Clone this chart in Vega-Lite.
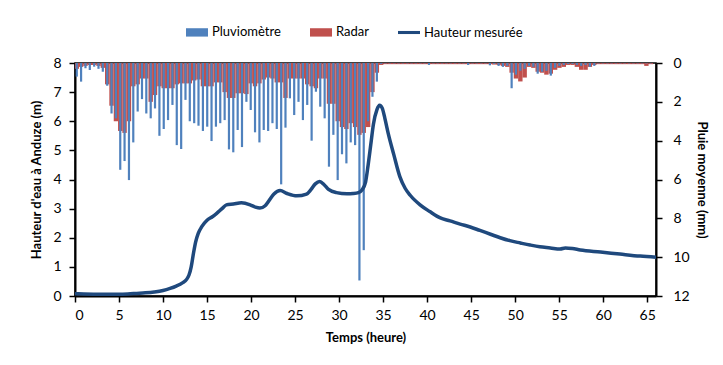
{
  "$schema": "https://vega.github.io/schema/vega-lite/v6.json",
  "width": 581,
  "height": 233,
  "autosize": "none",
  "padding": {"left": 75, "top": 63, "right": 67, "bottom": 69},
  "background": "white",
  "datasets": {
    "rain": [
      {"t":0.2,"pluvio":0.7,"radar":0.3},{"t":0.69,"pluvio":0.96,"radar":0.2},{"t":1.19,"pluvio":0.27,"radar":0.15},{"t":1.68,"pluvio":0.36,"radar":0.1},
      {"t":2.18,"pluvio":0.19,"radar":0.1},{"t":2.67,"pluvio":0.3,"radar":0.15},{"t":3.16,"pluvio":0.45,"radar":0.25},{"t":3.66,"pluvio":1.17,"radar":1.1},
      {"t":4.15,"pluvio":2.6,"radar":2.2},{"t":4.65,"pluvio":2.85,"radar":3.0},{"t":5.14,"pluvio":5.5,"radar":3.5},{"t":5.63,"pluvio":5.05,"radar":3.6},
      {"t":6.13,"pluvio":6.03,"radar":3.0},{"t":6.62,"pluvio":4.09,"radar":1.2},{"t":7.12,"pluvio":2.5,"radar":1.1},{"t":7.61,"pluvio":1.86,"radar":0.8},
      {"t":8.1,"pluvio":2.6,"radar":0.8},{"t":8.6,"pluvio":2.85,"radar":2.0},{"t":9.09,"pluvio":2.34,"radar":1.65},{"t":9.59,"pluvio":3.75,"radar":1.2},
      {"t":10.08,"pluvio":3.4,"radar":1.3},{"t":10.57,"pluvio":2.94,"radar":1.3},{"t":11.07,"pluvio":2.16,"radar":1.3},{"t":11.56,"pluvio":4.23,"radar":1.1},
      {"t":12.06,"pluvio":4.43,"radar":1.05},{"t":12.55,"pluvio":1.9,"radar":1.05},{"t":13.04,"pluvio":3.0,"radar":1.05},{"t":13.54,"pluvio":3.1,"radar":0.9},
      {"t":14.03,"pluvio":3.23,"radar":0.85},{"t":14.53,"pluvio":3.5,"radar":1.2},{"t":15.02,"pluvio":3.28,"radar":1.2},{"t":15.51,"pluvio":4.02,"radar":1.2},
      {"t":16.01,"pluvio":3.28,"radar":1.0},{"t":16.5,"pluvio":3.1,"radar":1.0},{"t":17.0,"pluvio":2.94,"radar":1.5},{"t":17.49,"pluvio":4.45,"radar":1.8},
      {"t":17.98,"pluvio":4.6,"radar":1.8},{"t":18.48,"pluvio":3.45,"radar":1.56},{"t":18.97,"pluvio":4.33,"radar":1.56},{"t":19.47,"pluvio":2.0,"radar":1.6},
      {"t":19.96,"pluvio":2.42,"radar":1.05},{"t":20.45,"pluvio":3.57,"radar":1.2},{"t":20.95,"pluvio":4.09,"radar":1.05},{"t":21.44,"pluvio":3.45,"radar":0.85},
      {"t":21.94,"pluvio":3.5,"radar":0.75},{"t":22.43,"pluvio":3.1,"radar":0.8},{"t":22.92,"pluvio":3.4,"radar":1.0},{"t":23.42,"pluvio":6.25,"radar":1.0},
      {"t":23.91,"pluvio":3.33,"radar":1.8},{"t":24.41,"pluvio":1.82,"radar":0.8},{"t":24.9,"pluvio":2.68,"radar":0.8},{"t":25.39,"pluvio":2.0,"radar":0.8},
      {"t":25.89,"pluvio":2.94,"radar":0.8},{"t":26.38,"pluvio":2.16,"radar":1.1},{"t":26.88,"pluvio":4.0,"radar":1.2},{"t":27.37,"pluvio":1.48,"radar":1.3},
      {"t":27.86,"pluvio":2.25,"radar":0.8},{"t":28.36,"pluvio":2.85,"radar":0.8},{"t":28.85,"pluvio":5.34,"radar":2.1},{"t":29.35,"pluvio":3.7,"radar":2.1},
      {"t":29.84,"pluvio":6.03,"radar":3.0},{"t":30.33,"pluvio":4.7,"radar":3.3},{"t":30.83,"pluvio":5.17,"radar":3.4},{"t":31.32,"pluvio":4.09,"radar":3.1},
      {"t":31.82,"pluvio":4.23,"radar":3.3},{"t":32.31,"pluvio":11.2,"radar":3.7},{"t":32.8,"pluvio":9.64,"radar":3.6},{"t":33.3,"pluvio":3.0,"radar":3.3},
      {"t":33.79,"pluvio":1.74,"radar":1.5},{"t":34.29,"pluvio":0.96,"radar":0.5},{"t":34.78,"pluvio":0.05,"radar":0.1},{"t":35.27,"pluvio":0.02,"radar":0.06},
      {"t":35.77,"pluvio":0.02,"radar":0.06},{"t":36.26,"pluvio":0.02,"radar":0.06},{"t":36.76,"pluvio":0.02,"radar":0.06},{"t":37.25,"pluvio":0.02,"radar":0.06},
      {"t":37.74,"pluvio":0.02,"radar":0.06},{"t":38.24,"pluvio":0.02,"radar":0.06},{"t":38.73,"pluvio":0.02,"radar":0.06},{"t":39.23,"pluvio":0.02,"radar":0.06},
      {"t":39.72,"pluvio":0.02,"radar":0.06},{"t":40.21,"pluvio":0.1,"radar":0.06},{"t":40.71,"pluvio":0.02,"radar":0.06},{"t":41.2,"pluvio":0.02,"radar":0.06},
      {"t":41.7,"pluvio":0.02,"radar":0.06},{"t":42.19,"pluvio":0.02,"radar":0.06},{"t":42.68,"pluvio":0.02,"radar":0.06},{"t":43.18,"pluvio":0.02,"radar":0.06},
      {"t":43.67,"pluvio":0.02,"radar":0.06},{"t":44.17,"pluvio":0.02,"radar":0.06},{"t":44.66,"pluvio":0.1,"radar":0.06},{"t":45.15,"pluvio":0.02,"radar":0.06},
      {"t":45.65,"pluvio":0.02,"radar":0.06},{"t":46.14,"pluvio":0.02,"radar":0.06},{"t":46.64,"pluvio":0.02,"radar":0.06},{"t":47.13,"pluvio":0.12,"radar":0.06},
      {"t":47.62,"pluvio":0.05,"radar":0.08},{"t":48.12,"pluvio":0.15,"radar":0.1},{"t":48.61,"pluvio":0.2,"radar":0.15},{"t":49.11,"pluvio":0.15,"radar":0.2},
      {"t":49.6,"pluvio":1.3,"radar":0.5},{"t":50.09,"pluvio":0.6,"radar":0.8},{"t":50.59,"pluvio":0.4,"radar":0.95},{"t":51.08,"pluvio":0.3,"radar":0.75},
      {"t":51.58,"pluvio":0.15,"radar":0.2},{"t":52.07,"pluvio":0.2,"radar":0.25},{"t":52.56,"pluvio":0.55,"radar":0.45},{"t":53.06,"pluvio":0.45,"radar":0.5},
      {"t":53.55,"pluvio":0.4,"radar":0.6},{"t":54.05,"pluvio":0.65,"radar":0.55},{"t":54.54,"pluvio":0.25,"radar":0.35},{"t":55.03,"pluvio":0.15,"radar":0.25},
      {"t":55.53,"pluvio":0.1,"radar":0.2},{"t":56.02,"pluvio":0.05,"radar":0.1},{"t":56.52,"pluvio":0.05,"radar":0.1},{"t":57.01,"pluvio":0.1,"radar":0.2},
      {"t":57.5,"pluvio":0.15,"radar":0.35},{"t":58.0,"pluvio":0.1,"radar":0.35},{"t":58.49,"pluvio":0.2,"radar":0.2},{"t":58.99,"pluvio":0.15,"radar":0.1},
      {"t":59.48,"pluvio":0.02,"radar":0.06},{"t":59.97,"pluvio":0.02,"radar":0.06},{"t":60.47,"pluvio":0.02,"radar":0.06},{"t":60.96,"pluvio":0.02,"radar":0.06},
      {"t":61.46,"pluvio":0.02,"radar":0.06},{"t":61.95,"pluvio":0.02,"radar":0.06},{"t":62.44,"pluvio":0.02,"radar":0.06},{"t":62.94,"pluvio":0.02,"radar":0.06},
      {"t":63.43,"pluvio":0.02,"radar":0.06},{"t":63.93,"pluvio":0.02,"radar":0.06},{"t":64.42,"pluvio":0.02,"radar":0.06},{"t":64.91,"pluvio":0.02,"radar":0.15},
      {"t":65.41,"pluvio":0.02,"radar":0.06}
    ],
    "level": [
      {"t":0,"h":0.08},{"t":1,"h":0.07},{"t":3,"h":0.06},{"t":5,"h":0.06},{"t":6,"h":0.07},{"t":7,"h":0.09},{"t":8,"h":0.11},{"t":9,"h":0.14},
      {"t":10,"h":0.19},{"t":10.8,"h":0.26},{"t":11.5,"h":0.34},{"t":12.2,"h":0.45},{"t":12.7,"h":0.58},{"t":12.95,"h":0.72},{"t":13.2,"h":1.0},
      {"t":13.45,"h":1.45},{"t":13.7,"h":1.85},{"t":14.0,"h":2.15},{"t":14.4,"h":2.38},{"t":15.0,"h":2.6},{"t":15.6,"h":2.72},{"t":16.1,"h":2.84},
      {"t":16.7,"h":3.0},{"t":17.2,"h":3.13},{"t":18.0,"h":3.16},{"t":18.9,"h":3.2},{"t":19.9,"h":3.13},{"t":20.5,"h":3.05},{"t":21.0,"h":3.02},
      {"t":21.6,"h":3.1},{"t":22.1,"h":3.3},{"t":22.6,"h":3.5},{"t":23.3,"h":3.62},{"t":24.1,"h":3.52},{"t":25.2,"h":3.44},{"t":26.3,"h":3.5},
      {"t":26.8,"h":3.65},{"t":27.3,"h":3.85},{"t":27.8,"h":3.93},{"t":28.3,"h":3.82},{"t":28.8,"h":3.66},{"t":29.7,"h":3.55},{"t":30.9,"h":3.51},
      {"t":31.6,"h":3.52},{"t":32.2,"h":3.55},{"t":32.6,"h":3.64},{"t":33.0,"h":3.9},{"t":33.3,"h":4.5},{"t":33.6,"h":5.2},{"t":33.9,"h":5.9},
      {"t":34.3,"h":6.4},{"t":34.6,"h":6.55},{"t":34.9,"h":6.45},{"t":35.2,"h":6.1},{"t":35.6,"h":5.56},{"t":36.2,"h":4.87},{"t":36.9,"h":4.1},
      {"t":37.5,"h":3.7},{"t":38.1,"h":3.45},{"t":39.2,"h":3.13},{"t":40.3,"h":2.9},{"t":41.5,"h":2.68},{"t":42.6,"h":2.58},{"t":43.75,"h":2.47},
      {"t":44.9,"h":2.37},{"t":46.0,"h":2.25},{"t":47.2,"h":2.12},{"t":48.3,"h":2.0},{"t":49.4,"h":1.9},{"t":50.6,"h":1.82},{"t":51.7,"h":1.75},
      {"t":52.8,"h":1.69},{"t":54.0,"h":1.65},{"t":55.1,"h":1.61},{"t":55.7,"h":1.65},{"t":56.5,"h":1.63},{"t":57.4,"h":1.58},{"t":59.7,"h":1.51},
      {"t":61.9,"h":1.44},{"t":64.2,"h":1.37},{"t":66,"h":1.33}
    ],
    "series": [
      {"serie":"Pluviomètre"},{"serie":"Radar"},{"serie":"Hauteur mesurée"}
    ]
  },
  "layer": [
    {
      "layer": [
        {
          "data": {"name": "rain"},
          "mark": {"type": "bar", "orient": "vertical", "width": 4.4, "color": "#c0504d", "clip": true},
          "encoding": {
            "x": {"field": "t", "type": "quantitative", "scale": {"domain": [0, 66], "nice": false, "padding": 0},
                  "axis": {"title": "Temps (heure)", "values": [0,5,10,15,20,25,30,35,40,45,50,55,60,65], "labelPadding": 6, "titlePadding": 9}},
            "y": {"field": "radar", "type": "quantitative", "scale": {"domain": [0, 12], "reverse": true, "nice": false, "padding": 0},
                  "axis": {"orient": "right", "title": "Pluie moyenne (mm)", "values": [0,2,4,6,8,10,12], "labelPadding": 11, "titlePadding": 5}}
          }
        },
        {
          "data": {"name": "rain"},
          "mark": {"type": "bar", "orient": "vertical", "width": 2.2, "color": "#4f81bd", "clip": true},
          "encoding": {
            "x": {"field": "t", "type": "quantitative", "scale": {"domain": [0, 66], "nice": false, "padding": 0},
                  "axis": {"title": "Temps (heure)", "values": [0,5,10,15,20,25,30,35,40,45,50,55,60,65], "labelPadding": 6, "titlePadding": 9}},
            "y": {"field": "pluvio", "type": "quantitative", "scale": {"domain": [0, 12], "reverse": true, "nice": false, "padding": 0},
                  "axis": {"orient": "right", "title": "Pluie moyenne (mm)", "values": [0,2,4,6,8,10,12], "labelPadding": 11, "titlePadding": 5}}
          }
        }
      ]
    },
    {
      "data": {"name": "level"},
      "mark": {"type": "line", "color": "#1f497d", "strokeWidth": 3.5, "interpolate": "monotone"},
      "encoding": {
        "x": {"field": "t", "type": "quantitative", "scale": {"domain": [0, 66], "nice": false, "padding": 0},
              "axis": {"title": "Temps (heure)", "values": [0,5,10,15,20,25,30,35,40,45,50,55,60,65], "labelPadding": 6, "titlePadding": 9}},
        "y": {"field": "h", "type": "quantitative", "scale": {"domain": [0, 8], "nice": false},
              "axis": {"orient": "left", "title": "Hauteur d'eau à Anduze (m)", "values": [0,1,2,3,4,5,6,7,8], "labelPadding": 8, "titlePadding": 9}}
      }
    },
    {
      "data": {"name": "series"},
      "mark": {"type": "point", "filled": true, "size": 0, "strokeWidth": 0},
      "encoding": {
        "color": {"field": "serie", "type": "nominal",
                  "scale": {"domain": ["Pluviomètre", "Radar", "Hauteur mesurée"], "range": ["#4f81bd", "#c0504d", "#1f497d"]},
                  "legend": {"title": null, "orient": "none", "legendX": 110, "legendY": -43, "direction": "horizontal", "symbolSize": 484, "symbolOpacity": 1, "labelFontSize": 13, "labelFont": "Lato", "labelColor": "black", "columnPadding": 26, "labelOffset": 3}},
        "shape": {"field": "serie", "type": "nominal",
                  "scale": {"domain": ["Pluviomètre", "Radar", "Hauteur mesurée"], "range": ["M-1,-0.38H1V0.38H-1Z", "M-1,-0.38H1V0.38H-1Z", "M-1,-0.14H1V0.14H-1Z"]},
                  "legend": {"title": null, "orient": "none", "legendX": 110, "legendY": -43, "direction": "horizontal", "symbolSize": 484, "symbolOpacity": 1, "labelFontSize": 13, "labelFont": "Lato", "labelColor": "black", "columnPadding": 26, "labelOffset": 3}}
      }
    }
  ],
  "resolve": {"scale": {"y": "independent"}},
  "config": {
    "font": "Lato",
    "view": {"stroke": "black", "strokeWidth": 1.5},
    "axis": {"domainColor": "black", "domainWidth": 2, "tickColor": "black", "tickWidth": 1.5, "tickSize": 6,
             "labelFont": "Lato", "labelFontSize": 14, "labelColor": "black",
             "titleFont": "Lato", "titleFontSize": 13, "titleFontWeight": "bold", "titleColor": "black", "grid": false}
  }
}
